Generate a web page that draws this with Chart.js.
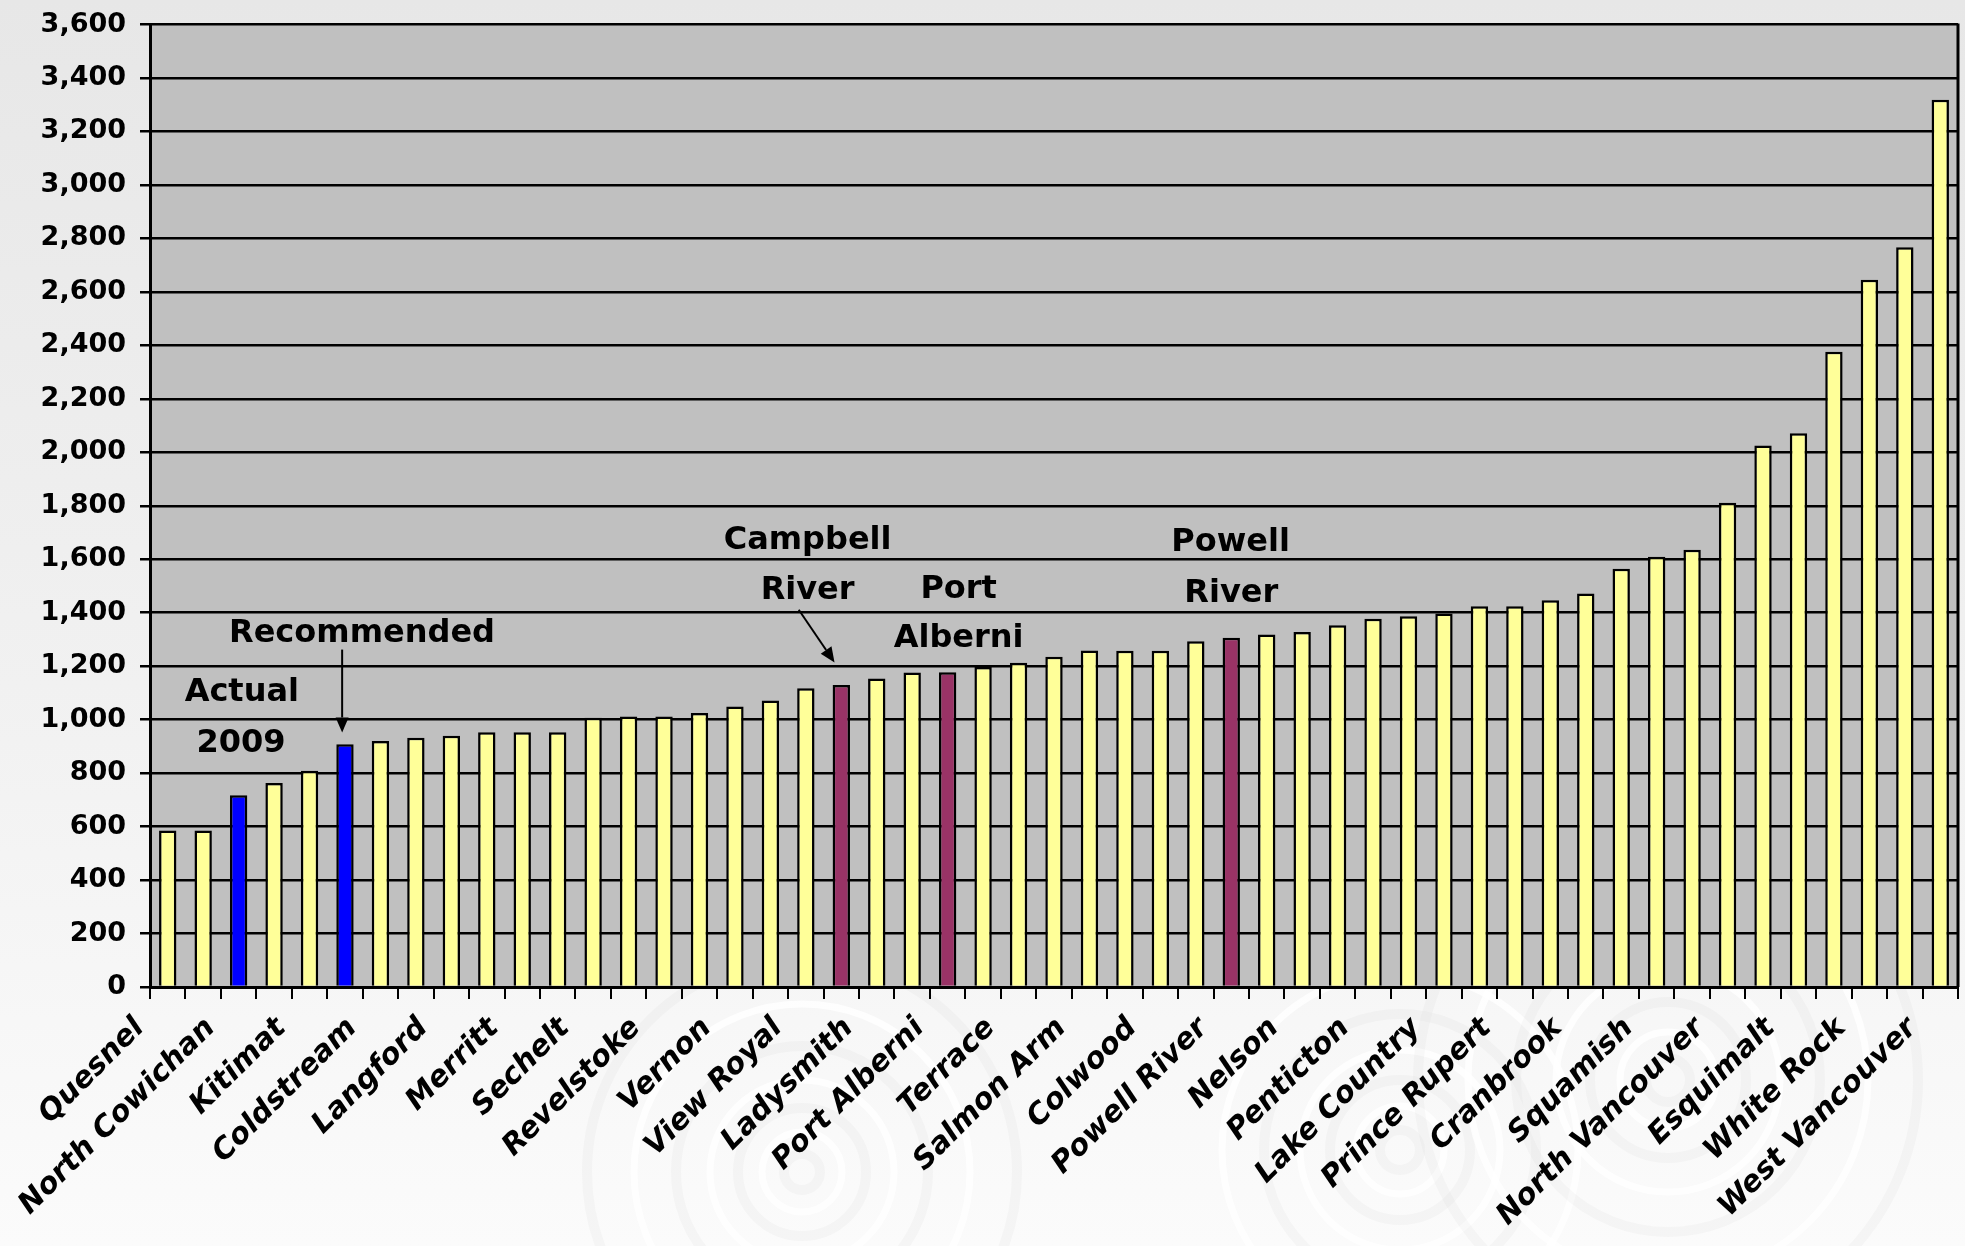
<!DOCTYPE html>
<html>
<head>
<meta charset="utf-8">
<title>Municipal comparison</title>
<script src="https://cdn.jsdelivr.net/npm/chart.js@4.4.1/dist/chart.umd.min.js"></script>
<style>
  html, body { margin: 0; padding: 0; }
  body {
    width: 1965px; height: 1246px; overflow: hidden;
    background: linear-gradient(to bottom, #e7e7e7 0%, #f1f1f1 55%, #fbfbfb 100%);
  }
  #wrap { position: relative; width: 1965px; height: 1246px; }
</style>
</head>
<body>
<div id="wrap"><canvas id="chart" width="1965" height="1246"></canvas></div>
<script>
// Municipalities, sorted by value; only every second name is printed on the axis.
const categories = [
  'Quesnel', '', 'North Cowichan', '', 'Kitimat', '', 'Coldstream', '', 'Langford', '',
  'Merritt', '', 'Sechelt', '', 'Revelstoke', '', 'Vernon', '', 'View Royal', 'Campbell River',
  'Ladysmith', '', 'Port Alberni', '', 'Terrace', '', 'Salmon Arm', '', 'Colwood', '',
  'Powell River', '', 'Nelson', '', 'Penticton', '', 'Lake Country', '', 'Prince Rupert', '',
  'Cranbrook', '', 'Squamish', '', 'North Vancouver', '', 'Esquimalt', '', 'White Rock', '',
  'West Vancouver'
];

const values = [
  585, 585, 717, 763, 809, 908, 920, 932, 940, 953,
  953, 953, 1007, 1012, 1012, 1025, 1049, 1072, 1117, 1130,
  1154, 1176, 1177, 1197, 1213, 1235, 1259, 1258, 1258, 1293,
  1306, 1318, 1328, 1353, 1377, 1387, 1397, 1424, 1424, 1447,
  1472, 1564, 1609, 1635, 1811, 2025, 2071, 2376, 2645, 2767,
  3319
];

// y-axis range and step
const yMin = 0;
const yMax = 3600;
const yStep = 200;

// bars picked out in other colours
const subjectBars = [2, 5];        // actual 2009 and recommended
const peerBars = [19, 22, 30];     // Campbell River, Port Alberni, Powell River

// callout text, placed in data units (category index, value)
const notes = [
  { text: 'Actual', x: 2.09, y: 1101 },
  { text: '2009', x: 2.07, y: 911 },
  { text: 'Recommended', x: 5.48, y: 1322 },
  { text: 'Campbell', x: 18.05, y: 1669 },
  { text: 'River', x: 18.05, y: 1482 },
  { text: 'Port', x: 22.31, y: 1486 },
  { text: 'Alberni', x: 22.31, y: 1303 },
  { text: 'Powell', x: 29.98, y: 1662 },
  { text: 'River', x: 30.0, y: 1471 }
];
const arrows = [
  { x1: 4.92, y1: 1262, x2: 4.92, y2: 952 },
  { x1: 17.8, y1: 1411, x2: 18.81, y2: 1214 }
];

const COL_BAR = '#FFFF99';
const COL_SUBJECT = '#0000FF';
const COL_PEER = '#993366';
const PLOT_BG = '#C0C0C0';
const FONT = "'DejaVu Sans', 'Liberation Sans', sans-serif";

function barColour(i) {
  if (subjectBars.includes(i)) return COL_SUBJECT;
  if (peerBars.includes(i)) return COL_PEER;
  return COL_BAR;
}

// faint concentric rings in the lower background
const backdrop = {
  id: 'backdrop',
  beforeDraw(chart) {
    const ctx = chart.ctx;
    const rings = [
      { cx: 802, cy: 1172, radii: [18, 40, 64, 92, 126, 168, 215] },
      { cx: 1400, cy: 1150, radii: [20, 44, 70, 100, 136, 178] },
      { cx: 1668, cy: 1080, radii: [22, 48, 78, 112, 152, 200, 250] }
    ];
    ctx.save();
    rings.forEach(r => {
      r.radii.forEach((rad, k) => {
        ctx.beginPath();
        ctx.arc(r.cx, r.cy, rad, 0, Math.PI * 2);
        ctx.lineWidth = k % 2 ? 7 : 10;
        ctx.strokeStyle = k % 2 ? 'rgba(255,255,255,0.8)' : 'rgba(170,170,170,0.07)';
        ctx.stroke();
      });
    });
    // plot area fill
    const a = chart.chartArea;
    ctx.fillStyle = PLOT_BG;
    ctx.fillRect(a.left, a.top, a.right - a.left, a.bottom - a.top);
    ctx.restore();
  }
};

// right border of the plot area, callout text and arrows
const callouts = {
  id: 'callouts',
  afterDraw(chart) {
    const ctx = chart.ctx;
    const xs = chart.scales.x, ys = chart.scales.y;
    const a = chart.chartArea;
    ctx.save();
    ctx.strokeStyle = '#000';
    ctx.lineWidth = 3;
    ctx.beginPath();
    ctx.moveTo(a.right, a.top - 1);
    ctx.lineTo(a.right, a.bottom);
    ctx.stroke();

    ctx.fillStyle = '#000';
    ctx.font = 'bold 32px ' + FONT;
    ctx.textAlign = 'center';
    ctx.textBaseline = 'middle';
    notes.forEach(n => {
      ctx.fillText(n.text, xs.getPixelForValue(n.x), ys.getPixelForValue(n.y));
    });

    arrows.forEach(ar => {
      const x1 = xs.getPixelForValue(ar.x1), y1 = ys.getPixelForValue(ar.y1);
      const x2 = xs.getPixelForValue(ar.x2), y2 = ys.getPixelForValue(ar.y2);
      const ang = Math.atan2(y2 - y1, x2 - x1);
      const head = 15, half = 6.5;
      const bx = x2 - head * Math.cos(ang), by = y2 - head * Math.sin(ang);
      ctx.lineWidth = 2;
      ctx.beginPath();
      ctx.moveTo(x1, y1);
      ctx.lineTo(bx, by);
      ctx.stroke();
      ctx.beginPath();
      ctx.moveTo(x2, y2);
      ctx.lineTo(bx + half * Math.sin(ang), by - half * Math.cos(ang));
      ctx.lineTo(bx - half * Math.sin(ang), by + half * Math.cos(ang));
      ctx.closePath();
      ctx.fill();
    });
    ctx.restore();
  }
};

new Chart(document.getElementById('chart'), {
  type: 'bar',
  data: {
    labels: categories,
    datasets: [{
      data: values,
      backgroundColor: values.map((_, i) => barColour(i)),
      borderColor: '#000',
      borderWidth: 2.5,
      borderSkipped: 'bottom',
      barPercentage: 0.49,
      categoryPercentage: 1.0
    }]
  },
  options: {
    responsive: false,
    animation: false,
    locale: 'en-US',
    layout: { padding: { top: 24.5, right: 7, left: 0, bottom: 0 } },
    plugins: {
      legend: { display: false },
      tooltip: { enabled: false }
    },
    scales: {
      x: {
        grid: {
          offset: true,
          drawOnChartArea: false,
          drawTicks: true,
          tickLength: 12,
          color: '#000',
          lineWidth: 2
        },
        border: { display: true, color: '#000', width: 3 },
        ticks: {
          autoSkip: false,
          minRotation: 45,
          maxRotation: 45,
          labelOffset: -28,
          padding: 12,
          color: '#000',
          font: { family: FONT, weight: 'bold', style: 'italic', size: 29.5 },
          callback: (v, i) => (i % 2 === 0 ? categories[i] : '')
        },
        afterFit: s => {
          s.height = 259;
          s.paddingLeft = 0;
          s.paddingRight = 0;
        }
      },
      y: {
        min: yMin,
        max: yMax,
        grid: {
          color: '#000',
          lineWidth: 2.5,
          drawTicks: true,
          tickLength: 10
        },
        border: { display: true, color: '#000', width: 3 },
        ticks: {
          stepSize: yStep,
          padding: 14,
          color: '#000',
          font: { family: FONT, weight: 'bold', size: 27 },
          callback: v => v.toLocaleString('en-US')
        },
        afterFit: s => {
          s.width = 150;
          s.paddingTop = 0;
          s.paddingBottom = 0;
        }
      }
    }
  },
  plugins: [backdrop, callouts]
});
</script>
</body>
</html>
